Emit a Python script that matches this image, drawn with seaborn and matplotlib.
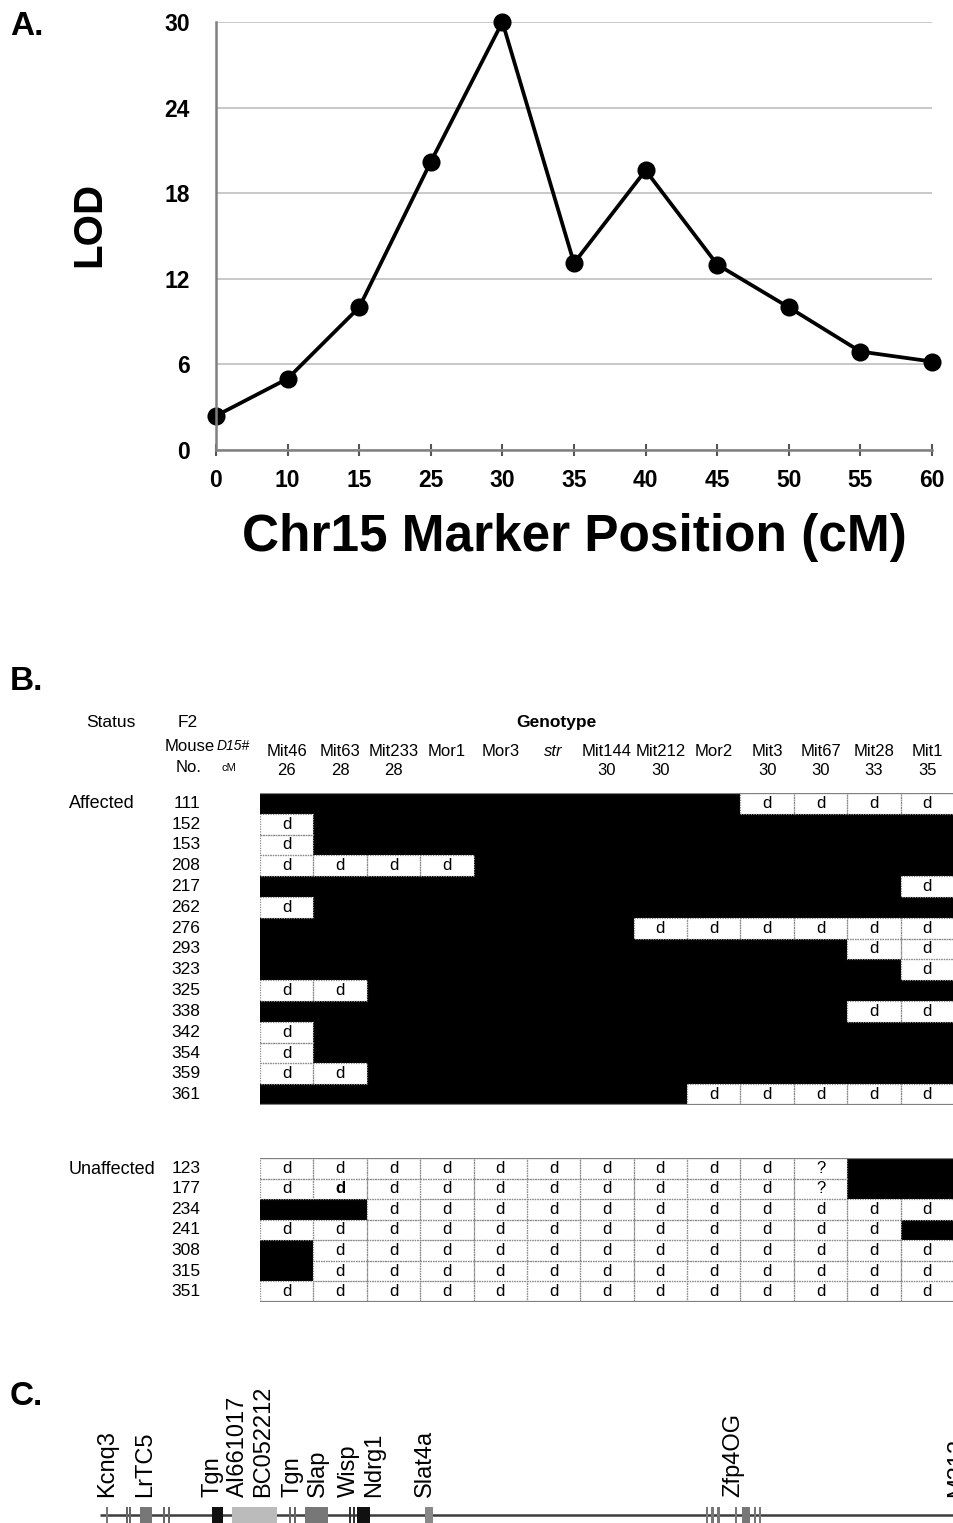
import numpy as np
import pandas as pd
import matplotlib
matplotlib.use('Agg')
import matplotlib.pyplot as plt
from matplotlib.colors import ListedColormap
from matplotlib.patches import Rectangle
import seaborn as sns

plt.rcParams['font.family'] = ['Liberation Sans', 'DejaVu Sans']

# --- panel A: LOD scan ---
marker_cm = ['0', '10', '15', '25', '30', '35', '40', '45', '50', '55', '60']
lod = [2.4, 5.0, 10.0, 20.2, 30.0, 13.1, 19.6, 13.0, 10.0, 6.9, 6.2]

# --- panel B: haplotypes (B = black, d = d allele, ? = unknown) ---
markers = ['Mit46', 'Mit63', 'Mit233', 'Mor1', 'Mor3', 'str', 'Mit144',
           'Mit212', 'Mor2', 'Mit3', 'Mit67', 'Mit28', 'Mit1']
marker_pos = ['26', '28', '28', ' ', ' ', ' ', '30', '30', ' ', '30', '30', '33', '35']

affected_ids = ['111', '152', '153', '208', '217', '262', '276', '293',
                '323', '325', '338', '342', '354', '359', '361']
affected_geno = ['BBBBBBBBBdddd', 'dBBBBBBBBBBBB', 'dBBBBBBBBBBBB',
                 'ddddBBBBBBBBB', 'BBBBBBBBBBBBd', 'dBBBBBBBBBBBB',
                 'BBBBBBBdddddd', 'BBBBBBBBBBBdd', 'BBBBBBBBBBBBd',
                 'ddBBBBBBBBBBB', 'BBBBBBBBBBBdd', 'dBBBBBBBBBBBB',
                 'dBBBBBBBBBBBB', 'ddBBBBBBBBBBB', 'BBBBBBBBddddd']

unaffected_ids = ['123', '177', '234', '241', '308', '315', '351']
unaffected_geno = ['dddddddddd?BB', 'dddddddddd?BB', 'BBddddddddddd',
                   'ddddddddddddB', 'Bdddddddddddd', 'Bdddddddddddd',
                   'ddddddddddddd']

# --- panel C: gene map (map units along the interval) ---
gene_labels = ['Kcnq3', 'LrTC5', 'Tgn', 'AI661017', 'BC052212', 'Tgn', 'Slap',
               'Wisp', 'Ndrg1', 'Slat4a', 'Zfp4OG', 'M312']
gene_label_pos = [0.9, 5.3, 13.2, 16.2, 19.1, 22.5, 25.5, 29.2, 32.1, 38.1, 74.2, 100.4]
feat_start = [0.7, 3.0, 3.4, 4.7, 7.4, 8.0, 13.1, 15.5, 22.1, 22.7, 24.0,
              29.2, 29.6, 30.1, 38.1, 71.0, 71.6, 72.3, 74.3, 75.2, 76.6, 77.2]
feat_end = [0.95, 3.25, 3.65, 6.1, 7.65, 8.25, 14.4, 20.7, 22.35, 22.95, 26.7,
            29.45, 29.85, 31.6, 39.0, 71.25, 71.85, 72.55, 74.55, 76.1, 76.85, 77.45]
feat_shade = ['#777777', '#666666', '#666666', '#777777', '#666666', '#666666',
              '#111111', '#bbbbbb', '#666666', '#666666', '#777777',
              '#333333', '#333333', '#111111', '#888888', '#777777', '#777777',
              '#777777', '#777777', '#777777', '#777777', '#777777']

W, H = 954, 1523
fig = plt.figure(figsize=(W / 100, H / 100), dpi=100)


def fxy(x, y):
    return x / W, 1 - y / H


# ================= A =================
ax_a = fig.add_axes([216 / W, 1 - 450 / H, (932 - 216) / W, (450 - 22) / H])
sns.pointplot(x=marker_cm, y=lod, order=marker_cm, ax=ax_a, color='black',
              markers='o', markersize=11, linewidth=2.7, errorbar=None)
for ln in ax_a.lines:
    ln.set_clip_on(False)
for c in ax_a.collections:
    c.set_clip_on(False)
ax_a.set_xlim(0, 10)
ax_a.set_ylim(0, 30)
ax_a.set_yticks(range(0, 31, 6))
ax_a.yaxis.grid(True, color='#c4c4c4', lw=1.3)
ax_a.set_axisbelow(True)
for s in ['top', 'right']:
    ax_a.spines[s].set_visible(False)
for s in ['left', 'bottom']:
    ax_a.spines[s].set_color('#808080')
    ax_a.spines[s].set_linewidth(1.8)
ax_a.tick_params(axis='y', length=0, pad=19, labelsize=16.5)
ax_a.tick_params(axis='x', direction='inout', length=8, width=1.5,
                 color='#555555', pad=10, labelsize=16.5)
for t in ax_a.get_xticklabels() + ax_a.get_yticklabels():
    t.set_fontweight('bold')
ax_a.set_xlabel('Chr15 Marker Position (cM)', fontsize=37, fontweight='bold', labelpad=15)
ax_a.set_ylabel('LOD', fontsize=29, fontweight='bold')
ax_a.yaxis.set_label_coords(-0.151, 0.528)

fig.text(*fxy(10, 35), 'A.', fontsize=24, fontweight='bold', va='baseline')
fig.text(*fxy(10, 690), 'B.', fontsize=24, fontweight='bold', va='baseline')
fig.text(*fxy(10, 1405), 'C.', fontsize=24, fontweight='bold', va='baseline')

# ================= B =================
geno_cmap = ListedColormap(['white', 'black'])


def draw_table(ax, ids, geno, top_labels):
    grid = pd.DataFrame([[1 if c == 'B' else 0 for c in g] for g in geno],
                        index=ids, columns=markers)
    annot = np.array([['' if c == 'B' else c for c in g] for g in geno])
    sns.heatmap(grid, ax=ax, cmap=geno_cmap, vmin=0, vmax=1, cbar=False,
                annot=annot, fmt='', annot_kws={'size': 12, 'color': 'black'},
                xticklabels=True, yticklabels=True)
    for i, g in enumerate(geno):
        for j, c in enumerate(g):
            if c != 'B':
                ax.add_patch(Rectangle((j, i), 1, 1, fill=False, ec='#8a8a8a',
                                       lw=0.9, ls=(0, (1, 1))))
    ax.axhline(0, color='#808080', lw=1.6)
    ax.axhline(len(geno), color='#808080', lw=1.6)
    ax.set_yticklabels(ids, rotation=0, fontsize=12.5)
    ax.tick_params(axis='y', length=0, pad=43)
    ax.set_xlabel('')
    ax.set_ylabel('')
    if top_labels:
        ax.xaxis.tick_top()
        ax.set_xticklabels([f'{m}\n{p}' for m, p in zip(markers, marker_pos)],
                           rotation=0, fontsize=12, linespacing=1.3)
        ax.tick_params(axis='x', length=0, pad=11)
        for t in ax.get_xticklabels():
            if t.get_text().startswith('str'):
                t.set_fontstyle('italic')
    else:
        ax.set_xticks([])


ax_b1 = fig.add_axes([260 / W, 1 - 1105 / H, 694 / W, 312 / H])
draw_table(ax_b1, affected_ids, affected_geno, True)
ax_b2 = fig.add_axes([260 / W, 1 - 1302 / H, 694 / W, 144 / H])
draw_table(ax_b2, unaffected_ids, unaffected_geno, False)
# mouse 177 at Mit63 is printed in bold
for t in ax_b2.texts:
    if t.get_position() == (1.5, 1.5):
        t.set_fontweight('bold')

fig.text(*fxy(86, 723), 'Status', fontsize=12.5, va='center')
fig.text(*fxy(188, 723), 'F2', fontsize=12.5, va='center', ha='center')
fig.text(*fxy(556, 723), 'Genotype', fontsize=12.5, fontweight='bold', va='center', ha='center')
fig.text(*fxy(165, 746), 'Mouse', fontsize=12, va='center')
fig.text(*fxy(217, 746), 'D15#', fontsize=10, style='italic', va='center')
fig.text(*fxy(176, 767), 'No.', fontsize=12, va='center')
fig.text(*fxy(222, 768), 'cM', fontsize=8, va='center')
fig.text(*fxy(69, 804), 'Affected', fontsize=13, va='center')
fig.text(*fxy(69, 1169), 'Unaffected', fontsize=13, va='center')

# ================= C =================
ax_c = fig.add_axes([0, 0, 1, 143 / H])
ax_c.set_xlim(-11.7, 100)
ax_c.set_ylim(-1, 16.875)
ax_c.axis('off')
ax_c.hlines(0, 0, 100, color='#3c3c3c', lw=1.8, zorder=1)
widths = [e - s for s, e in zip(feat_start, feat_end)]
ax_c.bar(feat_start, 1.9, width=widths, bottom=-0.95, align='edge',
         color=feat_shade, lw=0, zorder=2, clip_on=False)
for name, pos in zip(gene_labels, gene_label_pos):
    ax_c.text(pos, 2.3, name, rotation=90, ha='center', va='bottom', fontsize=17)

fig.savefig('out.png', dpi=100)
